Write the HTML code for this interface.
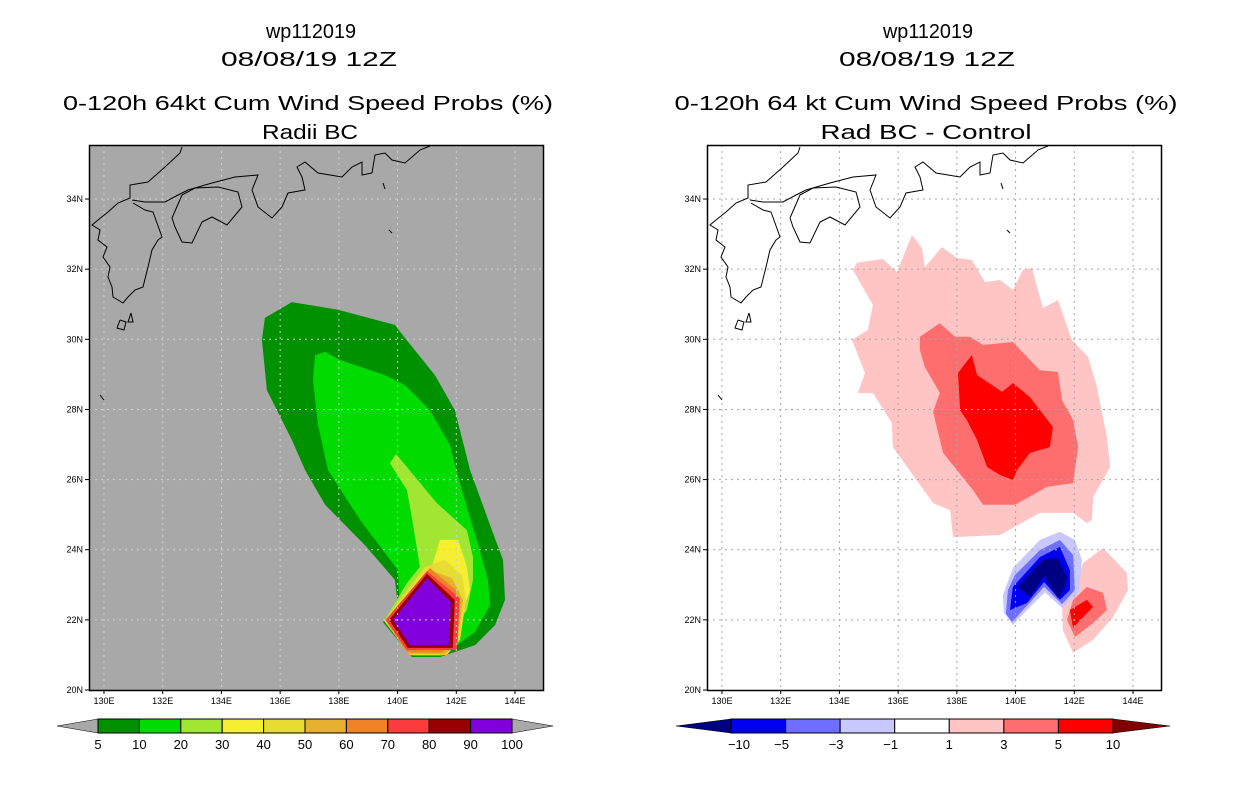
<!DOCTYPE html>
<html><head><meta charset="utf-8"><style>
body{margin:0;background:#fff;width:1236px;height:800px;overflow:hidden}
svg text{font-family:"Liberation Sans",sans-serif;fill:#000}
</style></head><body>
<svg id="c" width="1236" height="800" xmlns="http://www.w3.org/2000/svg">
<text x="311" y="38" font-size="20" text-anchor="middle" textLength="90" lengthAdjust="spacingAndGlyphs">wp112019</text>
<text x="309" y="66" font-size="20" text-anchor="middle" textLength="176" lengthAdjust="spacingAndGlyphs">08/08/19 12Z</text>
<text x="308" y="110" font-size="20" text-anchor="middle" textLength="490" lengthAdjust="spacingAndGlyphs">0-120h 64kt Cum Wind Speed Probs (%)</text>
<text x="310" y="139" font-size="20" text-anchor="middle" textLength="96" lengthAdjust="spacingAndGlyphs">Radii BC</text>
<text x="928" y="38" font-size="20" text-anchor="middle" textLength="90" lengthAdjust="spacingAndGlyphs">wp112019</text>
<text x="927" y="66" font-size="20" text-anchor="middle" textLength="176" lengthAdjust="spacingAndGlyphs">08/08/19 12Z</text>
<text x="926" y="110" font-size="20" text-anchor="middle" textLength="503" lengthAdjust="spacingAndGlyphs">0-120h 64 kt Cum Wind Speed Probs (%)</text>
<text x="926" y="139" font-size="20" text-anchor="middle" textLength="211" lengthAdjust="spacingAndGlyphs">Rad BC - Control</text>
</svg>
<script>
const lonTicks=[130,132,134,136,138,140,142,144];
const latTicks=[20,22,24,26,28,30,32,34];
const probLevels=[5,10,20,30,40,50,60,70,80,90,100];
const probColors=["#009100","#00dc00","#a0e632","#f5ee32","#e6dc32","#e6af2d","#f08228","#fa3c3c","#960000","#8200dc"];
const diffLabels=["-10","-5","-3","-1","1","3","5","10"];
const diffColors=["#000082","#0000f0","#6e6eff","#c8c8ff","#ffffff","#ffc4c4","#ff6e6e","#ff0000"];
// left panel contours [lon,lat]
const p5=[[135.48,30.61],[136.40,31.06],[137.97,30.84],[139.91,30.41],[140.25,30.04],[141.27,28.98],[141.95,27.98],[142.47,26.27],[143.15,24.70],[143.59,23.71],[143.66,22.57],[143.32,21.85],[142.64,21.28],[141.44,20.94],[140.49,20.94],[139.50,21.94],[140.01,22.42],[139.91,23.14],[138.89,24.13],[137.53,25.28],[136.85,26.27],[136.40,27.13],[135.55,28.55],[135.38,29.98]];
const p10=[[137.19,29.55],[137.53,29.64],[138.04,29.41],[139.57,28.98],[140.25,28.70],[141.10,27.98],[141.78,26.99],[142.19,25.70],[142.70,24.28],[143.08,23.14],[143.15,22.42],[142.64,21.65],[141.51,20.97],[140.49,20.97],[139.57,21.94],[140.08,22.42],[140.01,23.42],[138.72,24.85],[137.63,26.27],[137.29,27.56],[137.12,28.84]];
const p20=[[139.95,26.73],[141.34,25.33],[142.36,24.56],[142.57,23.79],[142.57,23.14],[142.36,22.28],[141.89,21.71],[141.51,21.06],[140.49,21.03],[139.54,21.97],[140.32,23.05],[140.76,23.51],[140.52,24.76],[140.32,25.70],[139.74,26.47]];
const p30=[[141.44,24.28],[142.06,24.28],[142.36,23.51],[142.47,22.85],[142.23,22.28],[141.78,21.51],[141.44,21.0],[140.49,21.0],[139.54,21.97],[140.87,23.36],[141.17,23.51]];
const p40=[[140.93,23.51],[141.61,23.71],[142.19,23.28],[142.33,22.57],[142.13,21.43],[141.68,21.0],[140.42,21.0],[139.54,21.97]];
const p50=[[141.10,23.42],[141.85,23.19],[142.23,22.57],[142.02,21.28],[141.61,21.03],[140.35,21.03],[139.57,22.0]];
const p60=[[141.10,23.48],[141.99,22.85],[142.06,21.43],[141.51,21.06],[140.32,21.08],[139.60,22.0]];
const p70=[[141.00,23.39],[142.12,22.62],[142.02,21.14],[140.31,21.14],[139.60,22.00]];
const p80=[[141.00,23.31],[141.95,22.57],[141.88,21.20],[140.35,21.20],[139.71,22.00]];
const p90=[[141.00,23.19],[141.82,22.51],[141.75,21.28],[140.42,21.28],[139.84,22.00]];
const p100=[[141.00,23.08],[141.68,22.48],[141.61,21.37],[140.49,21.37],[139.98,22.00]];
// right panel difference contours
const d1=[[134.60,32.18],[135.48,32.29],[135.96,31.92],[136.47,32.97],[136.81,32.60],[136.91,32.06],[137.49,32.63],[138.00,32.32],[138.51,32.26],[138.96,31.63],[139.47,31.69],[139.91,31.41],[140.25,31.98],[140.56,32.03],[140.93,30.89],[141.44,31.12],[141.92,29.98],[142.47,29.50],[142.77,28.64],[143.11,27.21],[143.22,26.36],[142.64,25.50],[142.60,24.85],[142.43,24.76],[141.96,25.05],[140.83,25.05],[140.39,24.85],[139.47,24.42],[137.87,24.36],[137.77,25.13],[137.19,25.33],[135.82,26.93],[135.79,27.61],[135.14,28.47],[134.63,28.47],[134.87,29.04],[134.43,29.98],[134.97,30.27],[135.14,30.98],[134.46,31.98]];
const d3=[[136.74,30.07],[137.42,30.46],[137.94,30.07],[138.45,30.07],[138.89,29.84],[139.91,29.92],[140.83,29.12],[141.44,29.07],[141.58,28.27],[141.96,27.70],[142.13,26.93],[141.96,25.90],[141.07,25.79],[139.98,25.28],[138.89,25.28],[138.55,25.70],[137.53,26.76],[137.19,27.93],[137.42,28.47],[136.91,29.21],[136.74,29.69]];
const d5=[[138.04,29.04],[138.51,29.55],[138.69,28.98],[139.54,28.50],[139.91,28.75],[140.49,28.35],[141.27,27.50],[141.17,26.93],[140.49,26.76],[140.05,26.27],[139.91,25.99],[139.47,26.13],[139.03,26.36],[138.69,27.13],[138.34,27.70],[138.11,27.98]];
const dm1=[[139.60,22.22],[139.57,22.71],[139.91,23.48],[140.83,24.28],[141.51,24.51],[142.02,24.28],[142.26,23.71],[142.16,22.79],[141.58,22.34],[141.00,22.79],[140.32,22.22],[139.91,21.85]];
const dm3=[[139.67,22.17],[139.74,22.85],[139.98,23.28],[140.83,23.99],[141.51,24.28],[141.96,23.85],[142.02,22.85],[141.58,22.45],[140.97,22.94],[140.32,22.34],[139.88,21.94]];
const dm5=[[139.81,22.28],[139.91,22.94],[140.83,23.79],[141.51,24.08],[141.85,23.42],[141.85,22.85],[141.51,22.57],[140.97,23.08],[140.39,22.48]];
const dm10=[[140.08,22.94],[140.93,23.71],[141.44,23.76],[141.75,23.22],[141.68,22.94],[141.44,22.62],[140.97,23.25],[140.49,22.65]];
const e1=[[142.98,24.05],[143.79,23.34],[143.83,22.85],[143.32,22.08],[142.64,21.43],[141.96,21.06],[141.61,21.71],[141.58,22.48],[141.96,22.77],[142.30,23.62]];
const e3=[[142.43,22.94],[142.98,22.77],[143.11,22.28],[142.64,21.91],[142.02,21.51],[141.75,22.0],[141.96,22.57]];
const e5=[[142.43,22.57],[142.64,22.37],[142.30,22.08],[141.96,21.77],[141.85,22.28]];

const NS="http://www.w3.org/2000/svg";
const svg=document.getElementById('c');
function mk(tag,attrs,parent){const e=document.createElementNS(NS,tag);for(const k in attrs)e.setAttribute(k,attrs[k]);(parent||svg).appendChild(e);return e;}
const LON0=129.49,LAT0=20,PXLON=29.36,PXLAT=35.07;
function panel(ox){
  return {x:lon=>ox+(lon-LON0)*PXLON, y:lat=>690-(lat-LAT0)*PXLAT, ox:ox};
}
const L=panel(89), R=panel(707);
function poly(P,pts,fill,name){
  const e=mk('polygon',{points:pts.map(p=>P.x(p[0]).toFixed(1)+','+P.y(p[1]).toFixed(1)).join(' '),fill:fill});
  
  
}
// coastline (pixels relative to left panel, drawn in both panels)
const coast=[
 [[182,147],[180,153],[165,167],[148,182],[130,185],[130,198],[118,203],[108,212],[98,220],[92,225],[100,230],[98,240],[107,247],[103,257],[110,267],[108,277],[112,287],[113,297],[123,303],[128,297],[135,290],[143,287],[148,267],[152,250],[158,240],[162,237],[157,223],[153,212],[145,210],[133,203]],
 [[132,200],[145,202],[165,202],[178,195],[188,190],[212,183],[235,177],[258,175],[252,190],[258,207],[272,218],[282,207],[288,193],[305,190],[302,177],[297,167],[305,162],[318,173],[342,177],[352,167],[362,162],[362,175],[372,173],[375,155],[385,153],[392,160],[405,163],[420,150],[430,146]],
 [[172,218],[182,195],[195,188],[218,187],[238,192],[242,207],[227,225],[212,217],[202,222],[192,243],[182,242],[175,227],[172,218]],
 [[120,320],[117,328],[124,330],[126,322],[120,320]],[[131,313],[128,322],[133,322],[131,313]],
 [[383,183],[385,189]],[[389,230],[392,233]],[[100,395],[104,400]]
];
function drawPanel(P,bg,grid,isLeft){
  const g=mk('g',{});
  
  
  mk('rect',{x:P.ox,y:145,width:454,height:545,fill:bg},g);
  if(isLeft){
    const L5=[p5,p10,p20,p30,p40,p50,p60,p70,p80,p90,p100];
    L5.forEach((pts,i)=>poly(P,pts,probColors[Math.min(i,9)],'prob-contour-'+probLevels[i]));
  } else {
    [[d1,5],[d3,6],[d5,7],[e1,5],[e3,6],[e5,7],[dm1,3],[dm3,2],[dm5,1],[dm10,0]].forEach((a,i)=>poly(P,a[0],diffColors[a[1]],'diff-contour-'+i));
  }
  lonTicks.forEach(v=>{const x=P.x(v);const l=mk('line',{x1:x,x2:x,y1:145,y2:690,stroke:grid,'stroke-dasharray':'2,4','stroke-width':1});
    const t=mk('text',{x:x,y:704,'font-size':9,'text-anchor':'middle'});t.textContent=v+'E';
    mk('line',{x1:x,x2:x,y1:690,y2:694,stroke:'#000'});});
  latTicks.forEach(v=>{const y=P.y(v);if(v>20){const l=mk('line',{x1:P.ox,x2:P.ox+454,y1:y,y2:y,stroke:grid,'stroke-dasharray':'2,4','stroke-width':1});}
    const t=mk('text',{x:P.ox-6,y:y+3,'font-size':9,'text-anchor':'end'});t.textContent=v+'N';
    mk('line',{x1:P.ox-4,x2:P.ox,y1:y,y2:y,stroke:'#000'});});
  coast.forEach(c=>{const pl=mk('polyline',{points:c.map(p=>(p[0]-89+P.ox)+','+p[1]).join(' '),fill:'none',stroke:'#000','stroke-width':1});
    });
  const f=mk('rect',{x:P.ox+0.5,y:145.5,width:454,height:545,fill:'none',stroke:'#000','stroke-width':1.5});
  
}
drawPanel(L,'#a8a8a8','#d0d0d0',true);
drawPanel(R,'#ffffff','#a8a8a8',false);
function colorbar(x0,x1,colors,labels,lt,rt,name){
  const n=colors.length,w=(x1-x0)/n;
  const a=mk('polygon',{points:`${x0-41},726 ${x0},719 ${x0},733`,fill:lt,stroke:'#000','stroke-width':0.5});
  
  const b=mk('polygon',{points:`${x1+41},726 ${x1},719 ${x1},733`,fill:rt,stroke:'#000','stroke-width':0.5});
  
  colors.forEach((c,i)=>{const r=mk('rect',{x:x0+i*w,y:719,width:w,height:14,fill:c,stroke:'#000','stroke-width':1});
    });
  labels.forEach((l,i)=>{const t=mk('text',{x:x0+i*w,y:749,'font-size':13,'text-anchor':'middle'});t.textContent=l;
    });
}
colorbar(98,512,probColors,probLevels.map(String),'#a8a8a8','#a8a8a8','prob-colorbar');
(function(){
  const x0=731,x1=1113,cols=diffColors.slice(1),w=(x1-x0)/7;
  const a=mk('polygon',{points:`676,726 ${x0},719 ${x0},733`,fill:diffColors[0],stroke:'#000','stroke-width':0.5});
  
  const b=mk('polygon',{points:`1170,726 ${x1},719 ${x1},733`,fill:'#800000',stroke:'#000','stroke-width':0.5});
  
  cols.forEach((c,i)=>{const r=mk('rect',{x:x0+i*w,y:719,width:w,height:14,fill:c,stroke:'#000','stroke-width':1});
    });
  diffLabels.forEach((l,i)=>{const t=mk('text',{x:x0+i*w+(l[0]=='-'?-4:0)+(i==0?12:0),y:749,'font-size':13,'text-anchor':'middle'});t.textContent=l.replace('-','\u2212');
    });
})();
</script>
</body></html>
